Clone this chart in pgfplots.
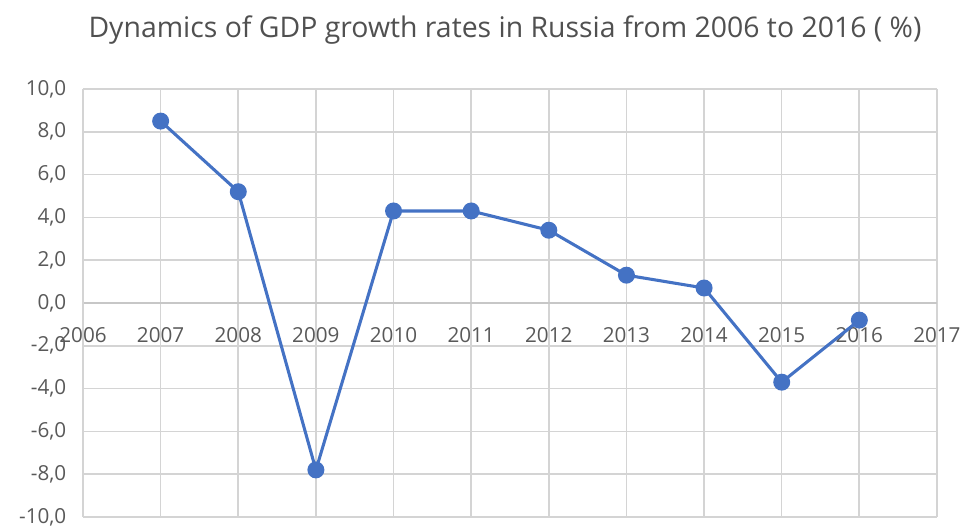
\documentclass[border=0pt]{standalone}
\usepackage{fontspec}
\setmainfont{Open Sans}
\usepackage{pgfplots}
\pgfplotsset{compat=1.18}
\usetikzlibrary{calc}
\definecolor{lineblue}{RGB}{68,114,196}
\definecolor{gridgray}{RGB}{212,212,212}
\definecolor{labgray}{RGB}{89,89,89}
\definecolor{titlegray}{RGB}{80,80,80}
\begin{document}
\begin{tikzpicture}
\begin{axis}[
  scale only axis,
  width=640.5pt, height=321pt,
  xmin=2006, xmax=2017, ymin=-10, ymax=10,
  xtick={2006,...,2017},
  ytick={-10,-8,...,10},
  axis x line=middle, axis y line=left,
  hide obscured x ticks=false,
  hide obscured y ticks=false,
  axis line style={draw=gridgray, line width=1.2pt, -},
  x axis line style={draw=gridgray!85!gray},
  grid=major,
  major grid style={draw=gridgray, line width=1.2pt},
  major tick length=0pt,
  /pgf/number format/assume math mode=true,
  tick label style={font=\fontsize{15.5}{18}\selectfont, text=labgray},
  xticklabel style={/pgf/number format/1000 sep={}, yshift=-15pt},
  yticklabel style={/pgf/number format/.cd, fixed, fixed zerofill, precision=1, use comma, /tikz/xshift=-9pt},
  clip=false,
]
\addplot[color=lineblue, line width=2.3pt, mark=*, mark size=5.2pt, mark options={fill=lineblue, draw=lineblue}]
coordinates {
(2007,8.5) (2008,5.2) (2009,-7.8) (2010,4.3) (2011,4.3) (2012,3.4)
(2013,1.3) (2014,0.7) (2015,-3.7) (2016,-0.8)
};
\coordinate (bl) at (rel axis cs:0,0);
\coordinate (tr) at (rel axis cs:1,1);
\coordinate (tt) at (rel axis cs:0.5,1);
\end{axis}
\node[font=\fontsize{21.3}{25}\selectfont, text=titlegray] at ($(tt)+(-3.75pt,44pt)$) {Dynamics of GDP growth rates in Russia from 2006 to 2016 ( \%)};
\pgfresetboundingbox
\path ($(bl)+(-62.25pt,-9.75pt)$) rectangle ($(tr)+(21pt,66.75pt)$);
\end{tikzpicture}
\end{document}
